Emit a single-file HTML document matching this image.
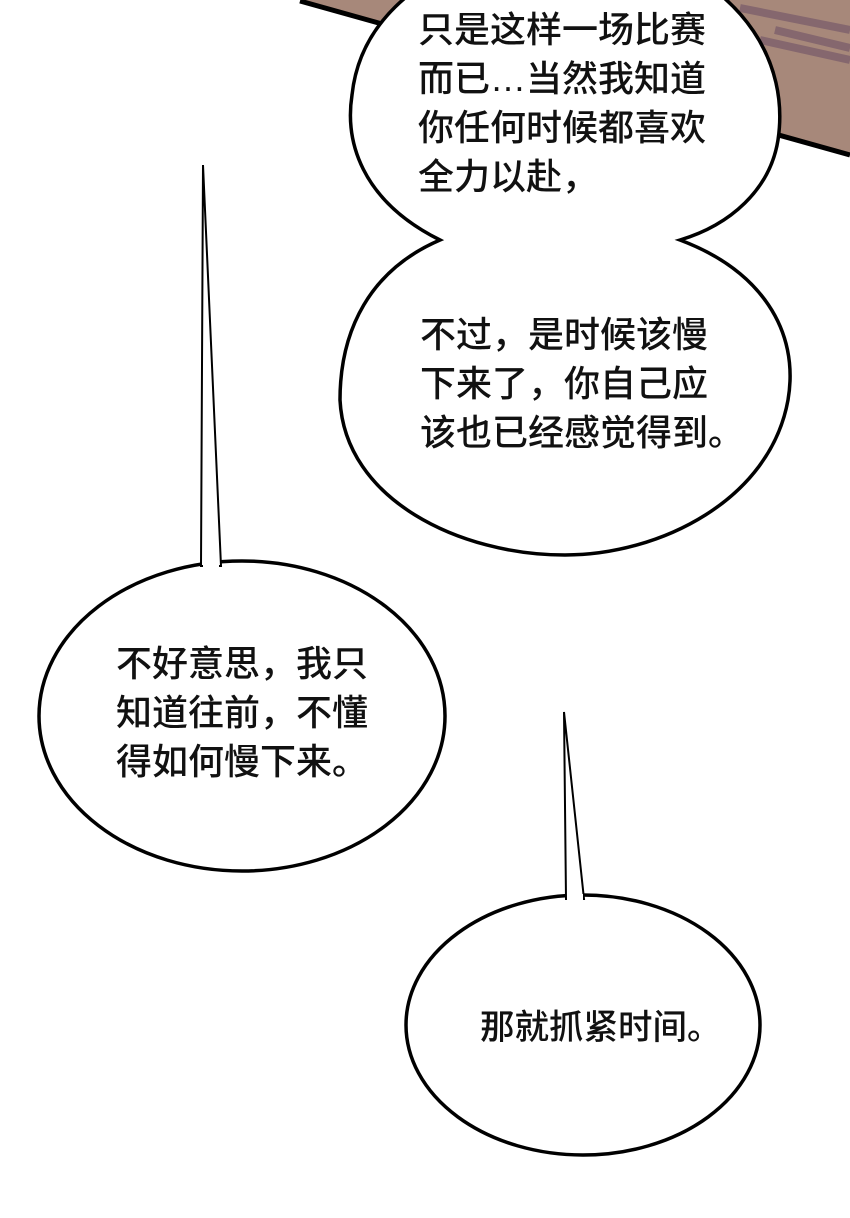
<!DOCTYPE html>
<html><head><meta charset="utf-8"><style>
html,body{margin:0;padding:0;background:#fff;}
svg{display:block}
text{font-family:"Liberation Sans","Noto Sans CJK SC",sans-serif;fill:#111;font-size:36px;font-weight:500;}
</style></head><body>
<svg width="850" height="1218" viewBox="0 0 850 1218" xmlns="http://www.w3.org/2000/svg">
<rect width="850" height="1218" fill="#fff"/>
<polygon points="300,-5 850,-5 850,155 300,0" fill="#a7887a"/>
<path d="M740,8 L850,30 M775,30 L850,48 M760,40 L850,60" stroke="#7d5f6c" stroke-width="8" opacity="0.8"/>
<line x1="300" y1="1" x2="850" y2="155" stroke="#000" stroke-width="5"/>
<path d="M440,240 C360,200 345,140 352,95 C360,20 420,-20 470,-40 L660,-40 C740,-10 790,60 778,140 C770,190 730,225 680,240 C760,270 800,330 788,400 C770,500 660,555 565,555 C460,555 345,500 340,400 C340,330 370,270 440,240 Z" fill="#fff" stroke="#000" stroke-width="3.5"/>
<ellipse cx="242" cy="716" rx="203" ry="155" fill="#fff" stroke="#000" stroke-width="3.5"/>
<path d="M201,566 L203,165 L221,566 Z" fill="#fff" stroke="#000" stroke-width="2"/>
<rect x="203" y="562" width="16" height="8" fill="#fff"/>
<ellipse cx="583" cy="1025" rx="177" ry="130" fill="#fff" stroke="#000" stroke-width="3.5"/>
<path d="M566,899 L564,712 L584,899 Z" fill="#fff" stroke="#000" stroke-width="2"/>
<rect x="567" y="894" width="16" height="9" fill="#fff"/>
<text x="418" y="42">只是这样一场比赛</text>
<text x="418" y="91">而已…当然我知道</text>
<text x="418" y="140">你任何时候都喜欢</text>
<text x="418" y="189">全力以赴，</text>
<text x="420" y="347">不过，是时候该慢</text>
<text x="420" y="396">下来了，你自己应</text>
<text x="420" y="445">该也已经感觉得到。</text>
<text x="116" y="676">不好意思，我只</text>
<text x="116" y="725">知道往前，不懂</text>
<text x="116" y="774">得如何慢下来。</text>
<text x="480" y="1039" style="font-size:34.5px">那就抓紧时间。</text>
</svg>
</body></html>
